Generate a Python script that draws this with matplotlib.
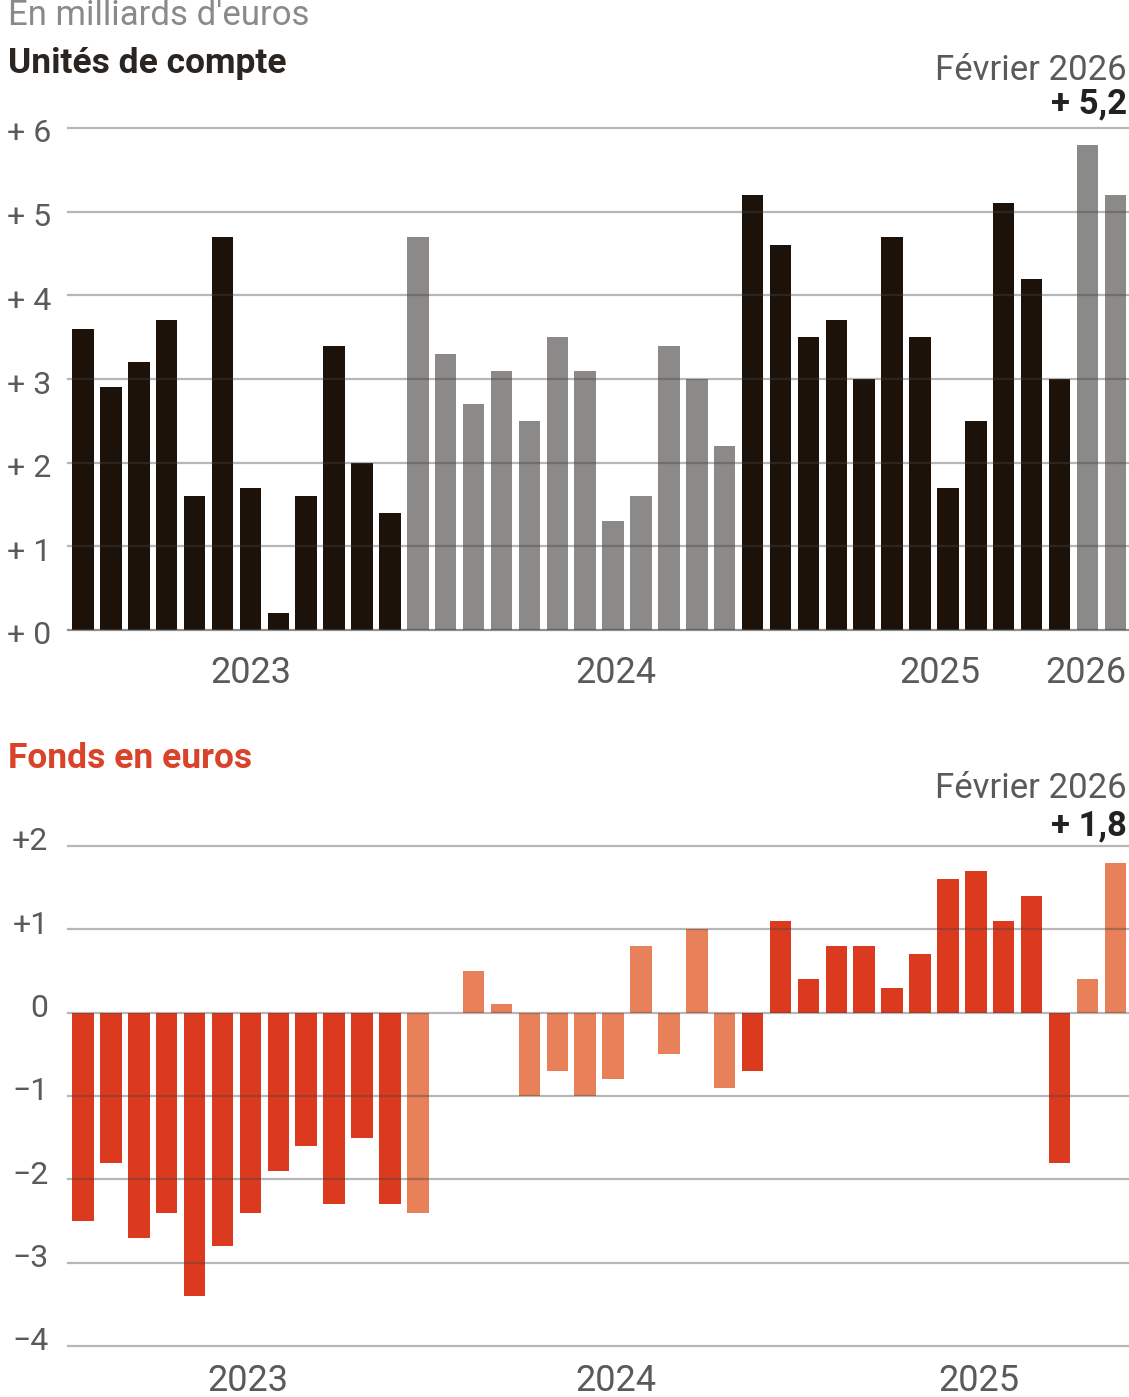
import matplotlib
matplotlib.use("Agg")
import matplotlib.pyplot as plt
import matplotlib.transforms as mtransforms
import pandas as pd

# ---------------- data ----------------
months = pd.period_range("2023-01", periods=38, freq="M")
years = [p.year for p in months]

uc_values = [3.6, 2.9, 3.2, 3.7, 1.6, 4.7, 1.7, 0.2, 1.6, 3.4, 2.0, 1.4,
             4.7, 3.3, 2.7, 3.1, 2.5, 3.5, 3.1, 1.3, 1.6, 3.4, 3.0, 2.2,
             5.2, 4.6, 3.5, 3.7, 3.0, 4.7, 3.5, 1.7, 2.5, 5.1, 4.2, 3.0,
             5.8, 5.2]

fe_values = [-2.5, -1.8, -2.7, -2.4, -3.4, -2.8, -2.4, -1.9, -1.6, -2.3, -1.5, -2.3,
             -2.4, 0.0, 0.5, 0.1, -1.0, -0.7, -1.0, -0.8, 0.8, -0.5, 1.0, -0.9,
             -0.7, 1.1, 0.4, 0.8, 0.8, 0.3, 0.7, 1.6, 1.7, 1.1, 1.4, -1.8,
             0.4, 1.8]

uc_ticks = [0, 1, 2, 3, 4, 5, 6]
uc_ticklabels = ["+ 0", "+ 1", "+ 2", "+ 3", "+ 4", "+ 5", "+ 6"]
fe_ticks = [-4, -3, -2, -1, 0, 1, 2]
fe_ticklabels = ["\u22124", "\u22123", "\u22122", "\u22121", "0", "+1", "+2"]

uc_year_pos = [6.0, 19.1, 30.7, 35.95]
uc_year_labels = ["2023", "2024", "2025", "2026"]
fe_year_pos = [5.9, 19.1, 32.1]
fe_year_labels = ["2023", "2024", "2025"]

title_top = "Unités de compte"
title_bottom = "Fonds en euros"
unit_text = "En milliards d'euros"
last_label = "Février 2026"
uc_last = "+ 5,2"
fe_last = "+ 1,8"

# ---------------- style ----------------
plt.rcParams["font.family"] = ["Roboto", "DejaVu Sans"]
DARK = "#1c1209"
GRAY_BAR = "#8b8a88"
RED = "#dc3a1e"
ORANGE = "#e8805a"
TICK = "#5a5a5a"

W, H = 1129, 1397
fig = plt.figure(figsize=(W / 100, H / 100), dpi=100)
fig.patch.set_facecolor("white")

def fx(px):
    return px / W

def fy(py):
    return 1 - py / H

left_px = 68
unit_px = 27.9
x0_px = 83
xl = -(x0_px - left_px) / unit_px
xr = xl + (W - left_px) / unit_px

def make_axes(top_px, bot_px):
    ax = fig.add_axes([fx(left_px), fy(bot_px), 1 - fx(left_px), (bot_px - top_px) / H])
    ax.set_xlim(xl, xr)
    for s in ax.spines.values():
        s.set_visible(False)
    ax.tick_params(length=0)
    ax.set_facecolor("none")
    return ax

x = list(range(len(months)))

# ---------- top chart ----------
ax1 = make_axes(128, 630)
c1 = [DARK if y % 2 == 1 else GRAY_BAR for y in years]
ax1.bar(x, uc_values, width=0.77, color=c1, zorder=2)
ax1.set_ylim(0, 6)
for t in uc_ticks:
    ax1.axhline(t, color="#444444", alpha=0.38 if t else 0.6, lw=1.6, zorder=3, clip_on=False)
ax1.set_yticks(uc_ticks, uc_ticklabels)
ax1.set_xticks(uc_year_pos, uc_year_labels)
ax1.tick_params(axis="y", pad=12, labelsize=23, labelcolor=TICK)
ax1.tick_params(axis="x", pad=18, labelsize=26, labelcolor=TICK)
for lab in ax1.get_yticklabels():
    lab.set_transform(lab.get_transform() + mtransforms.ScaledTranslation(0, -3 / 100, fig.dpi_scale_trans))

# ---------- bottom chart ----------
ax2 = make_axes(846, 1346)
c2 = [RED if y % 2 == 1 else ORANGE for y in years]
ax2.bar(x, fe_values, width=0.77, color=c2, zorder=2)
ax2.set_ylim(-4, 2)
for t in fe_ticks:
    ax2.axhline(t, color="#444444", alpha=0.38, lw=1.6, zorder=3, clip_on=False)
ax2.set_yticks(fe_ticks, fe_ticklabels)
ax2.set_xticks(fe_year_pos, fe_year_labels)
ax2.tick_params(axis="y", pad=14, labelsize=23, labelcolor=TICK)
ax2.tick_params(axis="x", pad=12, labelsize=26, labelcolor=TICK)
for lab in ax2.get_yticklabels():
    lab.set_transform(lab.get_transform() + mtransforms.ScaledTranslation(0, 7 / 100, fig.dpi_scale_trans))

# ---------- texts ----------
fig.text(fx(8), fy(25), unit_text, fontsize=25, color="#8a8a8a", ha="left", va="baseline")
fig.text(fx(8), fy(63), title_top, fontsize=25.5, fontweight="bold", color="#2a2520",
         ha="left", va="center")
fig.text(fx(1127), fy(71), last_label, fontsize=25, color=TICK, ha="right", va="center")
fig.text(fx(1127), fy(104), uc_last, fontsize=25, fontweight="bold", color="#222222",
         ha="right", va="center")

fig.text(fx(8), fy(759), title_bottom, fontsize=25.5, fontweight="bold", color="#d8432a",
         ha="left", va="center")
fig.text(fx(1127), fy(788), last_label, fontsize=25, color=TICK, ha="right", va="center")
fig.text(fx(1127), fy(826), fe_last, fontsize=25, fontweight="bold", color="#222222",
         ha="right", va="center")

fig.savefig("out.png", dpi=100, facecolor="white")
